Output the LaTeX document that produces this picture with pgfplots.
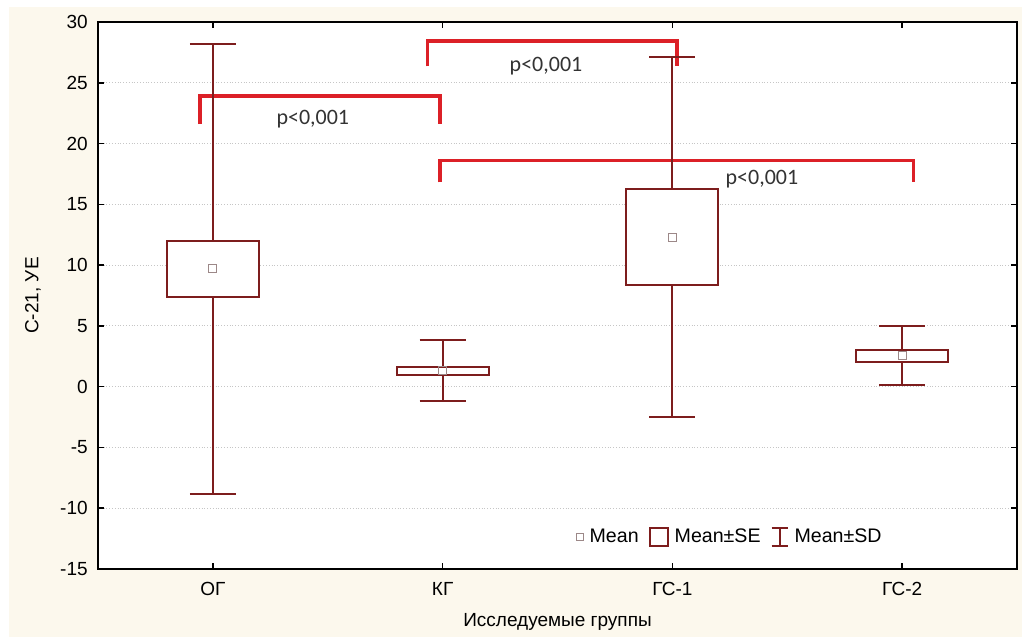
\documentclass[border=0pt]{standalone}
\usepackage{fontspec}
\setmainfont{Liberation Sans}
\newfontfamily\pfont{Carlito}
\usepackage{pgfplots}
\pgfplotsset{compat=1.18}
\usepgfplotslibrary{statistics}
\usetikzlibrary{backgrounds,calc}
\definecolor{boxred}{HTML}{7D1D1D}
\definecolor{brred}{HTML}{DC2027}
\definecolor{meangray}{HTML}{9C8888}
\definecolor{cream}{HTML}{FCF8ED}

\begin{document}
\fontsize{9.5}{11}\selectfont
\begin{tikzpicture}
\begin{axis}[
    name=ax,
    scale only axis,
    width=459.5pt, height=273.5pt,
    xmin=-0.5, xmax=3.5, ymin=-15, ymax=30,
    xtick={0,1,2,3}, xticklabels={ОГ,КГ,ГС-1,ГС-2},
    ytick={-15,-10,...,30},
    tick align=inside,
    major tick length=3pt,
    ymajorgrids,
    grid style={densely dotted, gray!45, line width=0.5pt},
    axis line style={line width=1pt},
    tick style={black, line width=0.8pt},
    axis background/.style={fill=white},
    /pgf/number format/assume math mode=true,
    ticklabel style={font=\fontsize{9.5}{11}\selectfont},
    yticklabel style={xshift=-1.8pt},
    xticklabel style={yshift=-3.5pt},
    xlabel={Исследуемые группы},
    ylabel={С-21, УЕ},
    xlabel style={at={(axis description cs:0.5,-0.097)}, anchor=center},
    ylabel style={at={(axis description cs:-0.0707,0.5)}, anchor=center},
    boxplot/draw direction=y,
    legend style={draw=none, fill=none, at={(0.513,0.0585)}, anchor=west,
        legend columns=3, font=\fontsize{9.8}{11}\selectfont,
        /tikz/every even column/.append style={column sep=3pt},
        /tikz/every odd column/.append style={column sep=1pt}},
]
% legend symbols
\addlegendimage{legend image code/.code={\draw[meangray, line width=0.5pt] (0pt,-1.7pt) rectangle (3.4pt,1.7pt);}}
\addlegendentry{Mean}
\addlegendimage{legend image code/.code={\draw[boxred, line width=1pt] (0pt,-4.5pt) rectangle (9pt,4.5pt);}}
\addlegendentry{Mean±SE}
\addlegendimage{legend image code/.code={\draw[boxred, line width=1pt] (0pt,4.5pt) -- (8pt,4.5pt) (4pt,4.5pt) -- (4pt,-4.5pt) (0pt,-4.5pt) -- (8pt,-4.5pt);}}
\addlegendentry{Mean±SD}

% significance brackets
\addplot[brred, line width=1.8pt, line join=miter, forget plot] coordinates {(-0.057,21.6) (-0.057,23.9) (0.988,23.9) (0.988,21.6)};
\addplot[brred, line width=1.8pt, line join=miter, forget plot] coordinates {(0.935,26.35) (0.935,28.45) (2.02,28.45) (2.02,26.35)};
\addplot[brred, line width=1.8pt, line join=miter, forget plot] coordinates {(0.988,16.8) (0.988,18.6) (3.05,18.6) (3.05,16.8)};

% mean +- SE box, mean +- SD whiskers
\addplot[boxred, line width=1pt, fill=white, forget plot,
    boxplot/draw/median/.code={},
    boxplot prepared={draw position=0, lower whisker=-8.8, lower quartile=7.4,
        median=9.7, upper quartile=12.0, upper whisker=28.2,
        box extend=0.4, whisker extend=0.2}] coordinates {};
\addplot[boxred, line width=1pt, fill=white, forget plot,
    boxplot/draw/median/.code={},
    boxplot prepared={draw position=1, lower whisker=-1.2, lower quartile=1.0,
        median=1.3, upper quartile=1.6, upper whisker=3.8,
        box extend=0.4, whisker extend=0.2}] coordinates {};
\addplot[boxred, line width=1pt, fill=white, forget plot,
    boxplot/draw/median/.code={},
    boxplot prepared={draw position=2, lower whisker=-2.5, lower quartile=8.35,
        median=12.3, upper quartile=16.25, upper whisker=27.1,
        box extend=0.4, whisker extend=0.2}] coordinates {};
\addplot[boxred, line width=1pt, fill=white, forget plot,
    boxplot/draw/median/.code={},
    boxplot prepared={draw position=3, lower whisker=0.1, lower quartile=2.05,
        median=2.55, upper quartile=3.05, upper whisker=4.95,
        box extend=0.4, whisker extend=0.2}] coordinates {};

% means
\addplot[only marks, mark=square, mark size=2pt, meangray,
    mark options={line width=0.5pt, fill=white}, forget plot]
    coordinates {(0,9.7) (1,1.3) (2,12.3) (3,2.55)};

\node[font=\pfont\fontsize{11}{13}\selectfont, text=black!80] at (axis cs:0.435,22.0) {p<0,001};
\node[font=\pfont\fontsize{11}{13}\selectfont, text=black!80] at (axis cs:1.45,26.4) {p<0,001};
\node[font=\pfont\fontsize{11}{13}\selectfont, text=black!80] at (axis cs:2.39,17.1) {p<0,001};
\end{axis}
\begin{pgfonlayer}{background}
\fill[white] ($(ax.south west)+(-49pt,-34pt)$) rectangle ($(ax.north east)+(2.5pt,11pt)$);
\fill[cream] ($(ax.south west)+(-44.5pt,-34pt)$) rectangle ($(ax.north east)+(2.5pt,7.5pt)$);
\end{pgfonlayer}
\pgfresetboundingbox
\path[use as bounding box] ($(ax.south west)+(-49pt,-34pt)$) rectangle ($(ax.north east)+(2.5pt,11pt)$);
\end{tikzpicture}
\end{document}
